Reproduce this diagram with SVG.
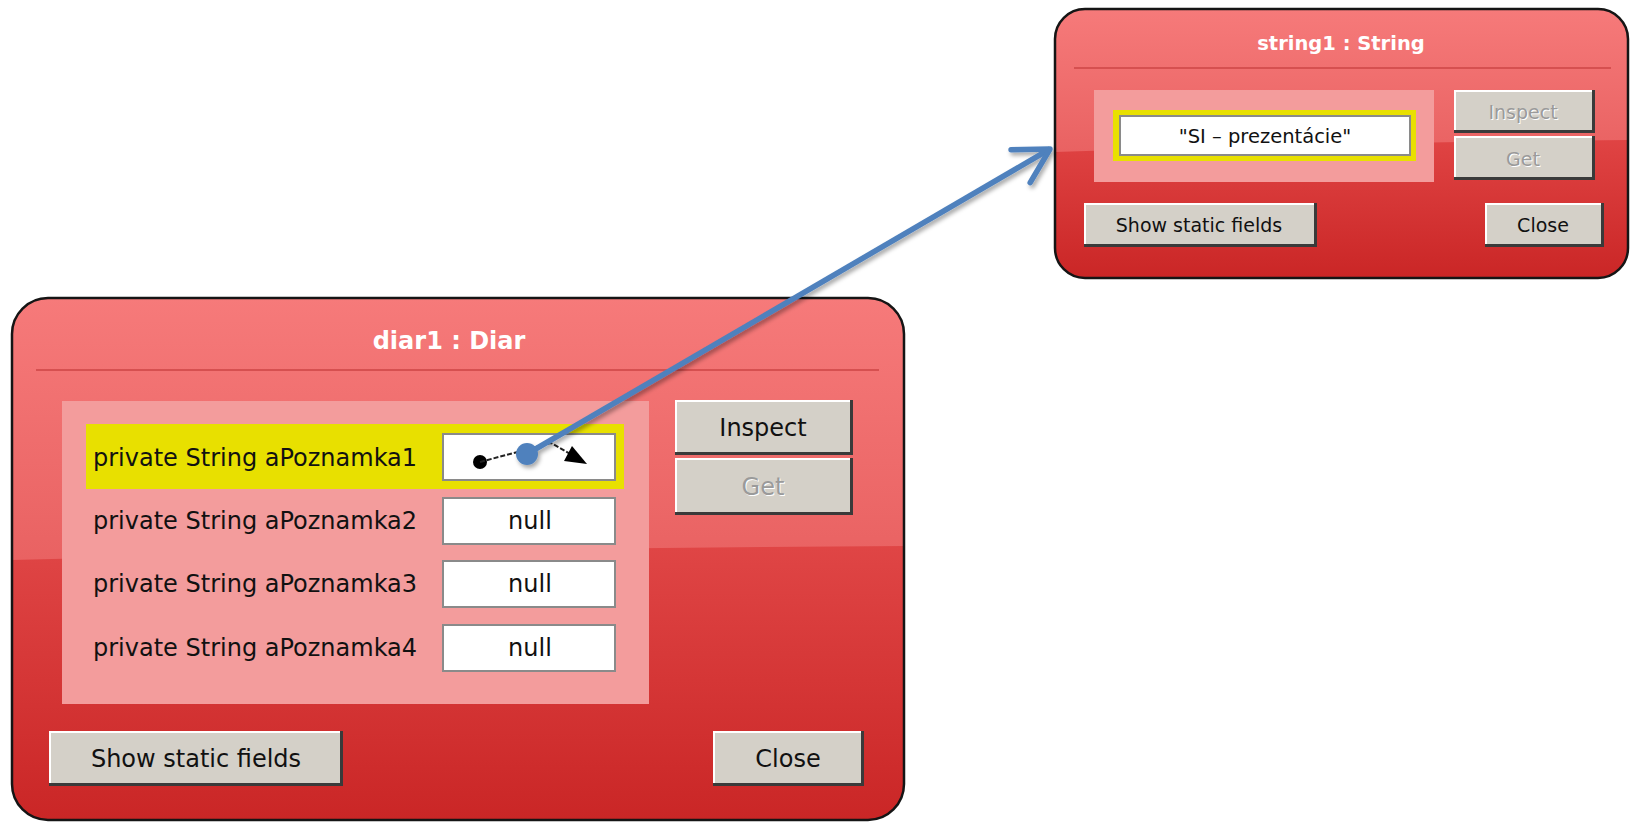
<svg xmlns="http://www.w3.org/2000/svg" width="1630" height="822" viewBox="0 0 1630 822">
<defs>
<linearGradient id="lowBig" gradientUnits="userSpaceOnUse" x1="0" y1="540" x2="0" y2="820">
<stop offset="0" stop-color="#E04646"/>
<stop offset="1" stop-color="#CA2626"/>
</linearGradient>
<linearGradient id="upBig" gradientUnits="userSpaceOnUse" x1="0" y1="298" x2="0" y2="560">
<stop offset="0" stop-color="#F67A7A"/>
<stop offset="1" stop-color="#E96262"/>
</linearGradient>
<linearGradient id="lowSmall" gradientUnits="userSpaceOnUse" x1="0" y1="138" x2="0" y2="278">
<stop offset="0" stop-color="#E04444"/>
<stop offset="1" stop-color="#CA2626"/>
</linearGradient>
<linearGradient id="upSmall" gradientUnits="userSpaceOnUse" x1="0" y1="9" x2="0" y2="152">
<stop offset="0" stop-color="#F67A7A"/>
<stop offset="1" stop-color="#E96262"/>
</linearGradient>
<clipPath id="clipBig"><rect x="12" y="298" width="892" height="522" rx="36"/></clipPath>
<clipPath id="clipSmall"><rect x="1055" y="9" width="573" height="269" rx="30"/></clipPath>
<filter id="shadow" x="-10%" y="-10%" width="130%" height="130%">
<feDropShadow dx="2" dy="3" stdDeviation="2" flood-color="#000" flood-opacity="0.35"/>
</filter>
<marker id="openArrow" markerUnits="userSpaceOnUse" viewBox="-4 -4 44 46" markerWidth="44" markerHeight="46" refX="34" refY="19" orient="auto" overflow="visible">
<path d="M0,0 L34,19 L0,38" fill="none" stroke="#4F81BD" stroke-width="5.5" stroke-linecap="round" stroke-linejoin="round"/>
</marker>
</defs>
<style>
.win{fill:none;stroke:#151515;stroke-width:2.5}
.title{font-family:"DejaVu Sans","Liberation Sans",sans-serif;font-weight:bold;fill:#fff;text-anchor:middle}
.sep{stroke:#D65050;stroke-width:2}
.panel{fill:#F39C9C}
.hl{fill:#E8E000}
.val{fill:#fff;stroke:#8A8A8A;stroke-width:2}
.lbl{font-family:"DejaVu Sans","Liberation Sans",sans-serif;fill:#111}
.btnOut{fill:#3A3A3A}
.btnHi{fill:#FFFFFF}
.btnFace{fill:#D4D0C8}
.btxt{font-family:"DejaVu Sans","Liberation Sans",sans-serif;fill:#111;text-anchor:middle}
.dis{fill:#9A9A9A}
.emb{fill:#FFFFFF}
</style>

<g id="diar1">
<g clip-path="url(#clipBig)">
<rect x="12" y="298" width="892" height="522" fill="url(#lowBig)"/>
<path d="M12,298 H904 V546 Q460,548 12,560 Z" fill="url(#upBig)"/>
</g>
<rect class="win" x="12" y="298" width="892" height="522" rx="36"/>
<text class="title" x="449" y="349" font-size="24">diar1 : Diar</text>
<line class="sep" x1="36" y1="370" x2="879" y2="370"/>
<rect class="panel" x="62" y="401" width="587" height="303"/>
<rect class="hl" x="86" y="424" width="538" height="65"/>
<rect class="val" x="443" y="434" width="172" height="46"/>
<rect class="val" x="443" y="498" width="172" height="46"/>
<rect class="val" x="443" y="561" width="172" height="46"/>
<rect class="val" x="443" y="625" width="172" height="46"/>
<text class="lbl" x="93" y="466" font-size="24">private String aPoznamka1</text>
<text class="lbl" x="93" y="529" font-size="24">private String aPoznamka2</text>
<text class="lbl" x="93" y="592" font-size="24">private String aPoznamka3</text>
<text class="lbl" x="93" y="656" font-size="24">private String aPoznamka4</text>
<text class="btxt" x="530" y="529" font-size="24">null</text>
<text class="btxt" x="530" y="592" font-size="24">null</text>
<text class="btxt" x="530" y="656" font-size="24">null</text>
<!-- reference glyph -->
<circle cx="480" cy="462" r="7" fill="#000"/>
<polyline points="480,462 551,443 572,455" fill="none" stroke="#222" stroke-width="2" stroke-dasharray="5,2"/>
<polygon points="587,464 572,446 564,461" fill="#000"/>
<!-- Inspect -->
<rect class="btnOut" x="675" y="400" width="178" height="55"/>
<rect class="btnHi" x="675" y="400" width="175" height="52"/>
<rect class="btnFace" x="677" y="402" width="173" height="50"/>
<text class="btxt" x="763" y="436" font-size="24">Inspect</text>
<!-- Get -->
<rect class="btnOut" x="675" y="458" width="178" height="57"/>
<rect class="btnHi" x="675" y="458" width="175" height="54"/>
<rect class="btnFace" x="677" y="460" width="173" height="52"/>
<text class="btxt emb" x="764" y="496" font-size="24">Get</text>
<text class="btxt dis" x="763" y="495" font-size="24">Get</text>
<!-- Show static fields -->
<rect class="btnOut" x="49" y="731" width="294" height="55"/>
<rect class="btnHi" x="49" y="731" width="291" height="52"/>
<rect class="btnFace" x="51" y="733" width="289" height="50"/>
<text class="btxt" x="196" y="767" font-size="24">Show static fields</text>
<!-- Close -->
<rect class="btnOut" x="713" y="731" width="151" height="55"/>
<rect class="btnHi" x="713" y="731" width="148" height="52"/>
<rect class="btnFace" x="715" y="733" width="146" height="50"/>
<text class="btxt" x="788" y="767" font-size="24">Close</text>
</g>

<g id="string1">
<g clip-path="url(#clipSmall)">
<rect x="1055" y="9" width="573" height="269" fill="url(#lowSmall)"/>
<path d="M1055,9 H1628 V140 Q1340,142 1055,152 Z" fill="url(#upSmall)"/>
</g>
<rect class="win" x="1055" y="9" width="573" height="269" rx="30"/>
<text class="title" x="1341" y="50" font-size="19.5">string1 : String</text>
<line class="sep" x1="1074" y1="68" x2="1611" y2="68"/>
<rect class="panel" x="1094" y="90" width="340" height="92"/>
<rect class="hl" x="1113" y="110" width="303" height="51"/>
<rect class="val" x="1120" y="116" width="290" height="39"/>
<text class="btxt" x="1265" y="143" font-size="19.5">"SI – prezentácie"</text>
<!-- Inspect -->
<rect class="btnOut" x="1454" y="90" width="141" height="43"/>
<rect class="btnHi" x="1454" y="90" width="138" height="40"/>
<rect class="btnFace" x="1456" y="92" width="136" height="38"/>
<text class="btxt emb" x="1524" y="120" font-size="19">Inspect</text>
<text class="btxt dis" x="1523" y="119" font-size="19">Inspect</text>
<!-- Get -->
<rect class="btnOut" x="1454" y="136" width="141" height="44"/>
<rect class="btnHi" x="1454" y="136" width="138" height="41"/>
<rect class="btnFace" x="1456" y="138" width="136" height="39"/>
<text class="btxt emb" x="1524" y="167" font-size="19">Get</text>
<text class="btxt dis" x="1523" y="166" font-size="19">Get</text>
<!-- Show static fields -->
<rect class="btnOut" x="1084" y="203" width="233" height="44"/>
<rect class="btnHi" x="1084" y="203" width="230" height="41"/>
<rect class="btnFace" x="1086" y="205" width="228" height="39"/>
<text class="btxt" x="1199" y="232" font-size="19">Show static fields</text>
<!-- Close -->
<rect class="btnOut" x="1485" y="203" width="119" height="44"/>
<rect class="btnHi" x="1485" y="203" width="116" height="41"/>
<rect class="btnFace" x="1487" y="205" width="114" height="39"/>
<text class="btxt" x="1543" y="232" font-size="19">Close</text>
</g>

<g id="connectors" filter="url(#shadow)">
<line x1="527" y1="454" x2="1050" y2="149" stroke="#4F81BD" stroke-width="5.5" marker-end="url(#openArrow)"/>
<circle cx="527" cy="454" r="11" fill="#4F81BD"/>
</g>
</svg>
